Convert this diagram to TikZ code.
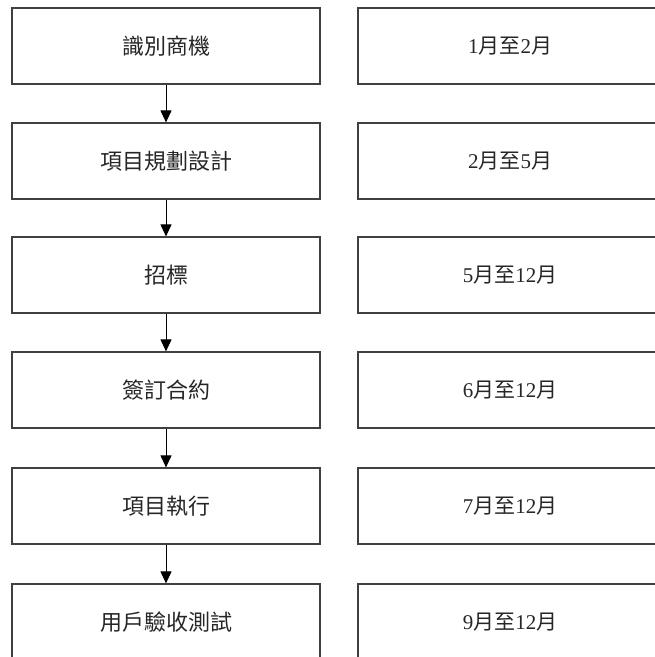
\documentclass[tikz,border=0pt]{standalone}
\usepackage{fontspec}
\setmainfont{Liberation Serif}
\newfontfamily\cjk{Noto Sans CJK TC}
\usetikzlibrary{arrows.meta}
\tikzset{
  stagebox/.style={draw=black!75, line width=1.2pt, minimum width=308pt, minimum height=76pt, inner sep=0pt, text=black!85, font=\fontsize{22}{26}\selectfont\cjk},
  timebox/.style={draw=black!75, line width=1.2pt, minimum width=304pt, minimum height=76pt, inner sep=0pt, text=black!85, font=\fontsize{21}{25}\selectfont},
  flowarrow/.style={draw=black, line width=1pt, -{Triangle[length=12pt,width=11pt]}}
}
\newcommand{\cj}[1]{{\cjk #1}}
\begin{document}
\begin{tikzpicture}[x=1pt,y=-1pt]
\useasboundingbox (0,0) rectangle (655,657);
\clip (0,0) rectangle (655,657);
\node[stagebox] (s1) at (166,46) {識別商機};
\node[stagebox] (s2) at (166,161) {項目規劃設計};
\node[stagebox] (s3) at (166,275) {招標};
\node[stagebox] (s4) at (166,390) {簽訂合約};
\node[stagebox] (s5) at (166,506) {項目執行};
\node[stagebox] (s6) at (166,622) {用戶驗收測試};
\node[timebox] (t1) at (510,46) {1\cj{月至}2\cj{月}};
\node[timebox] (t2) at (510,161) {2\cj{月至}5\cj{月}};
\node[timebox] (t3) at (510,275) {5\cj{月至}12\cj{月}};
\node[timebox] (t4) at (510,390) {6\cj{月至}12\cj{月}};
\node[timebox] (t5) at (510,506) {7\cj{月至}12\cj{月}};
\node[timebox] (t6) at (510,622) {9\cj{月至}12\cj{月}};
\foreach \a/\b in {s1/s2,s2/s3,s3/s4,s4/s5,s5/s6}
  \draw[flowarrow] (\a.south) -- (\b.north);
\end{tikzpicture}
\end{document}
